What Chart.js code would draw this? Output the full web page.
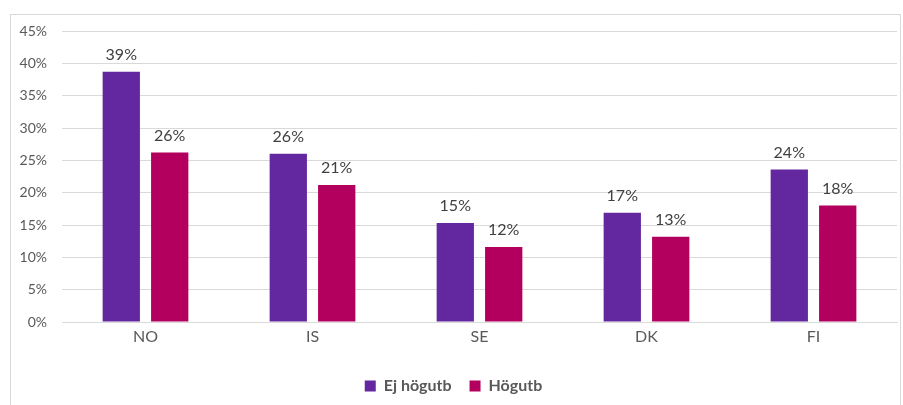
<!DOCTYPE html>
<html>
<head>
<meta charset="utf-8">
<script src="https://cdn.jsdelivr.net/npm/chart.js@4/dist/chart.umd.min.js"></script>
<style>
  html, body { margin: 0; padding: 0; background: #fff; }
  #wrap { width: 903px; height: 405px; }
</style>
</head>
<body>
<div id="wrap"><canvas id="chart" width="903" height="405"></canvas></div>
<script>
var countries = ['NO', 'IS', 'SE', 'DK', 'FI'];
var ejHogutb = [38.7, 26.0, 15.3, 16.9, 23.6];
var hogutb = [26.2, 21.2, 11.6, 13.2, 18.0];
var seriesNames = ['Ej högutb', 'Högutb'];
var yTicks = { min: 0, max: 45, step: 5 };

var fontFamily = "Lato, 'Open Sans', 'Liberation Sans', sans-serif";

// frame round the whole chart
var framePlugin = {
    id: 'frame',
    beforeDraw: function (chart) {
        var ctx = chart.ctx;
        ctx.save();
        ctx.strokeStyle = '#d9d9d9';
        ctx.lineWidth = 1;
        ctx.strokeRect(10.5, 14.5, 890, 400);
        ctx.restore();
    }
};

// value labels above the bars
var barLabels = {
    id: 'barLabels',
    afterDatasetsDraw: function (chart) {
        var ctx = chart.ctx;
        ctx.save();
        ctx.font = '16px ' + fontFamily;
        ctx.fillStyle = '#404040';
        ctx.textAlign = 'center';
        ctx.textBaseline = 'bottom';
        chart.data.datasets.forEach(function (ds, i) {
            chart.getDatasetMeta(i).data.forEach(function (bar, j) {
                ctx.fillText(Math.round(ds.data[j]) + '%', bar.x, bar.y - 9);
            });
        });
        ctx.restore();
    }
};

new Chart(document.getElementById('chart').getContext('2d'), {
    type: 'bar',
    data: {
        labels: countries,
        datasets: [{
            label: seriesNames[0],
            data: ejHogutb,
            backgroundColor: '#63289f'
        }, {
            label: seriesNames[1],
            data: hogutb,
            backgroundColor: '#b3005f'
        }]
    },
    options: {
        responsive: false,
        animation: false,
        events: [],
        datasets: { bar: { categoryPercentage: 0.58, barPercentage: 0.77 } },
        layout: { padding: { left: 10, top: 31, right: 6, bottom: 1 } },
        plugins: {
            tooltip: { enabled: false },
            legend: {
                position: 'bottom',
                labels: {
                    boxWidth: 11,
                    boxHeight: 11,
                    padding: 18,
                    color: '#595959',
                    font: { family: fontFamily, size: 16, weight: 'bold' }
                }
            }
        },
        scales: {
            x: {
                grid: { display: false, drawTicks: false },
                border: { color: '#d9d9d9' },
                ticks: { color: '#595959', padding: 5, font: { family: fontFamily, size: 16 } },
                afterFit: function (s) { s.height = 38; }
            },
            y: {
                min: yTicks.min,
                max: yTicks.max,
                grid: { color: '#d9d9d9', drawTicks: false },
                border: { display: false },
                ticks: {
                    stepSize: yTicks.step,
                    color: '#595959',
                    padding: 15,
                    font: { family: fontFamily, size: 14 },
                    callback: function (v) { return v + '%'; }
                },
                afterFit: function (s) { s.width = 52; }
            }
        }
    },
    plugins: [framePlugin, barLabels]
});
</script>
</body>
</html>
